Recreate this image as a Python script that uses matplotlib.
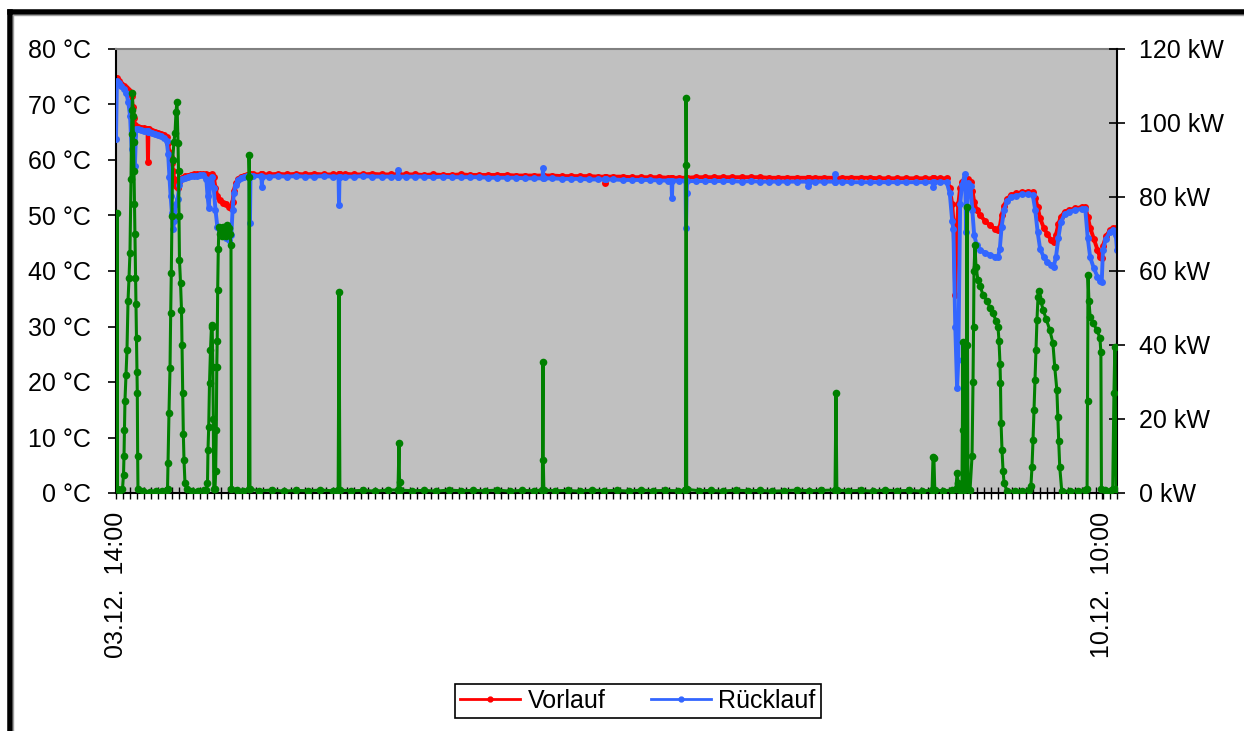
import matplotlib
matplotlib.use("Agg")
import matplotlib.pyplot as plt
import numpy as np
from matplotlib.lines import Line2D

plt.rcParams['font.family'] = ['Liberation Sans', 'DejaVu Sans']

# ---------------- data (time in hours after 03.12. 14:00, approx.) ----------------
zeit_temp = [
    0.00, 0.15, 0.50, 0.90, 1.30, 1.70, 2.00, 2.30, 2.55, 2.75,
    2.95, 3.10, 3.30, 3.60, 4.10, 4.60, 5.05, 5.16, 5.24, 5.32,
    5.45, 5.90, 6.40, 6.90, 7.40, 7.90, 8.30, 8.55, 8.75, 8.95,
    9.15, 9.35, 9.55, 9.80, 10.10, 10.40, 10.80, 11.30, 11.80, 12.30,
    12.80, 13.30, 13.80, 14.30, 14.80, 15.00, 15.20, 15.40, 15.70, 16.00,
    16.30, 16.60, 17.00, 17.50, 18.00, 18.50, 18.90, 19.10, 19.30, 19.60,
    20.00, 20.50, 21.00, 21.50, 21.87, 21.95, 22.03, 22.50,
    23.82, 23.90, 23.98, 25.00, 26.50, 28.00, 29.50, 31.00, 32.50, 34.00,
    35.50, 36.46, 36.54, 36.62, 37.50, 39.00, 40.50, 42.00, 43.50, 45.00,
    46.12, 46.20, 46.28, 47.50, 49.00, 50.50, 52.00, 53.50, 55.00, 56.50,
    58.00, 59.50, 61.00, 62.50, 64.00, 65.50, 67.00, 68.50, 69.88, 69.96,
    70.04, 71.50, 73.00, 74.50, 76.00, 77.50, 79.00, 80.04, 80.12, 80.20,
    81.50, 83.00, 84.50, 86.00, 87.50, 89.00, 90.50, 91.01, 91.09, 91.17,
    92.30, 93.31, 93.39, 93.50, 93.58, 95.00, 96.50, 98.00, 99.50, 101.00,
    102.50, 104.00, 105.50, 107.00, 108.50, 110.00, 111.50, 113.32, 113.40, 113.48,
    114.50, 116.00, 117.72, 117.80, 117.88, 119.00, 120.50, 122.00, 123.50, 125.00,
    126.50, 128.00, 129.50, 131.00, 132.50, 133.82, 133.90, 133.98, 135.00, 136.10,
    136.60, 137.00, 137.20, 137.50, 137.80, 138.00, 138.30, 138.60, 139.10, 139.30,
    139.60, 140.00, 140.30, 140.60, 141.00, 141.60, 142.40, 143.20, 144.00, 144.50,
    144.80, 145.10, 145.50, 146.00, 146.60, 147.50, 148.50, 149.50, 150.20, 150.60,
    151.00, 151.40, 152.00, 152.60, 153.20, 153.60, 154.00, 154.40, 154.80, 155.40,
    156.20, 157.20, 158.20, 158.80, 159.20, 159.60, 160.20, 160.80, 161.20, 161.50,
    161.70, 162.20, 162.80, 163.40, 163.80, 164.00,
]

vorlauf = [
    74.8, 74.8, 74.3, 73.7, 73.3, 72.9, 72.6, 72.2, 71.5, 69.5,
    67.5, 66.3, 66.0, 65.9, 65.8, 65.7, 65.6, 65.6, 59.6, 65.5,
    65.5, 65.3, 65.1, 64.9, 64.7, 64.5, 64.2, 63.0, 61.5, 60.5,
    59.5, 58.0, 56.5, 55.3, 55.0, 56.0, 56.8, 57.1, 57.2, 57.3,
    57.4, 57.4, 57.5, 57.5, 57.4, 57.3, 57.2, 57.3, 57.4, 57.0,
    55.0, 53.5, 52.8, 52.3, 52.0, 51.6, 51.3, 52.5, 54.5, 55.8,
    56.6, 57.0, 57.2, 57.3, 57.3, 57.4, 57.4, 57.4,
    57.4, 57.4, 57.4, 57.4, 57.5, 57.4, 57.5, 57.4, 57.5, 57.4,
    57.4, 57.4, 57.4, 57.4, 57.5, 57.4, 57.4, 57.5, 57.4, 57.4,
    57.4, 57.4, 57.4, 57.4, 57.4, 57.3, 57.4, 57.3, 57.3, 57.4,
    57.3, 57.3, 57.3, 57.3, 57.3, 57.2, 57.2, 57.2, 57.2, 57.2,
    57.2, 57.2, 57.1, 57.1, 57.1, 57.1, 57.0, 57.0, 55.9, 57.0,
    57.0, 57.0, 56.9, 56.9, 56.9, 56.9, 56.8, 56.8, 56.8, 56.8,
    56.8, 56.8, 56.5, 56.8, 56.8, 56.9, 56.9, 56.9, 56.9, 56.9,
    56.9, 56.9, 56.9, 56.8, 56.8, 56.8, 56.8, 56.8, 56.8, 56.8,
    56.8, 56.8, 56.8, 56.8, 56.8, 56.8, 56.8, 56.8, 56.8, 56.7,
    56.7, 56.7, 56.7, 56.7, 56.7, 56.7, 56.7, 56.7, 56.7, 56.7,
    55.0, 52.0, 49.0, 35.7, 48.0, 52.0, 55.0, 56.0, 56.8, 56.6,
    56.5, 56.0, 54.5, 52.5, 51.0, 50.0, 49.0, 48.2, 47.6, 47.4,
    48.0, 50.0, 51.8, 53.0, 53.7, 54.0, 54.2, 54.3, 54.2, 53.2,
    51.5, 49.5, 47.8, 46.6, 45.6, 45.2, 46.5, 48.5, 49.8, 50.6,
    51.0, 51.3, 51.5, 51.5, 49.8, 47.8, 45.8, 43.8, 42.5, 42.3,
    44.5, 46.3, 47.3, 47.7, 47.8, 47.6,
]

ruecklauf = [
    63.8, 74.2, 73.8, 73.3, 72.8, 72.0, 70.5, 68.0, 62.0, 58.5,
    64.5, 59.0, 65.6, 65.5, 65.4, 65.3, 65.2, 65.2, 65.2, 65.1,
    65.1, 64.9, 64.7, 64.5, 64.3, 64.0, 63.5, 61.0, 57.0, 53.5,
    50.5, 47.5, 49.0, 52.0, 53.0, 55.5, 56.5, 56.8, 57.0, 57.1,
    57.2, 57.2, 57.3, 57.3, 56.5, 53.5, 51.4, 56.0, 57.0, 55.0,
    51.0, 48.0, 46.8, 46.3, 45.9, 45.6, 46.5, 51.0, 54.0, 55.5,
    56.4, 56.8, 57.0, 57.1, 57.1, 48.6, 57.1, 57.1,
    57.1, 55.1, 57.0, 57.0, 57.1, 57.0, 57.1, 57.0, 57.0, 57.1,
    57.0, 57.0, 51.9, 57.0, 57.0, 57.0, 57.1, 57.0, 57.0, 57.0,
    57.0, 58.2, 57.0, 57.0, 57.0, 57.0, 56.9, 57.0, 56.9, 56.9,
    56.9, 56.9, 56.8, 56.8, 56.8, 56.8, 56.7, 56.7, 56.7, 58.5,
    56.7, 56.7, 56.6, 56.6, 56.6, 56.5, 56.5, 56.5, 56.5, 56.5,
    56.5, 56.4, 56.4, 56.4, 56.4, 56.3, 56.3, 56.3, 53.2, 56.3,
    56.3, 56.3, 47.7, 54.0, 56.2, 56.2, 56.2, 56.2, 56.2, 56.2,
    56.1, 56.2, 56.1, 56.1, 56.1, 56.1, 56.1, 56.1, 55.3, 56.1,
    56.1, 56.1, 56.1, 57.5, 56.1, 56.1, 56.0, 56.0, 56.0, 56.0,
    56.0, 56.0, 56.0, 56.0, 56.0, 56.0, 55.1, 56.0, 56.0, 56.0,
    54.0, 49.0, 47.5, 30.0, 19.0, 24.0, 52.0, 55.5, 57.5, 47.0,
    55.8, 55.3, 51.0, 46.5, 44.7, 43.8, 43.3, 42.9, 42.6, 42.5,
    44.0, 48.0, 51.0, 52.6, 53.3, 53.6, 53.8, 53.8, 53.7, 51.0,
    47.0, 44.0, 42.5, 41.6, 41.0, 40.7, 42.5, 46.0, 48.8, 50.2,
    50.7, 51.0, 51.2, 51.2, 46.0, 42.5, 40.5, 39.0, 38.2, 38.0,
    43.8, 45.8, 47.0, 47.3, 46.5, 43.8,
]

zeit_leistung = [
    0.00, 0.12, 0.16, 0.20, 0.60, 1.06, 1.23, 1.31, 1.39, 1.47,
    1.64, 1.80, 1.97, 2.13, 2.29, 2.46, 2.54, 2.62, 2.70, 2.79,
    2.87, 2.95, 3.03, 3.11, 3.19, 3.28, 3.36, 3.44, 3.49, 3.55,
    3.60, 4.50, 5.50, 6.50, 7.50, 8.30, 8.44, 8.52, 8.68, 8.85,
    8.96, 9.06, 9.17, 9.28, 9.50, 9.67, 9.83, 9.99, 10.16, 10.24,
    10.32, 10.40, 10.57, 10.73, 10.81, 10.93, 11.03, 11.14, 11.30, 11.63,
    12.50, 13.50, 14.40, 14.75, 14.99, 15.07, 15.19, 15.32, 15.48, 15.65,
    15.76, 15.86, 15.94, 16.02, 16.22, 16.33, 16.43, 16.51, 16.58, 16.66,
    16.76, 16.87, 17.04, 17.20, 17.37, 17.53, 17.69, 17.86, 18.02, 18.19,
    18.35, 18.51, 18.68, 18.84, 18.92, 19.80, 20.80, 21.71, 21.79, 21.87,
    21.95, 23.50, 25.50, 27.50, 29.50, 31.50, 33.50, 35.50, 36.40, 36.54,
    36.68, 38.50, 40.50, 42.50, 44.50, 46.20, 46.37, 46.45, 46.60, 48.50,
    50.50, 52.50, 54.50, 56.50, 58.50, 60.50, 62.50, 64.50, 66.50, 68.50,
    69.85, 69.96, 70.00, 70.10, 72.00, 74.00, 76.00, 78.00, 80.00, 82.00,
    84.00, 86.00, 88.00, 90.00, 92.00, 93.30, 93.39, 93.45, 93.50, 95.50,
    97.50, 99.50, 101.50, 103.50, 105.50, 107.50, 109.50, 111.50, 113.50, 115.50,
    117.80, 117.96, 118.10, 120.00, 122.00, 124.00, 126.00, 128.00, 130.00, 132.00,
    133.70, 133.86, 134.00, 134.15, 135.50, 137.00, 137.60, 137.80, 138.00, 138.20,
    138.60, 138.77, 138.85, 138.93, 139.26, 139.34, 139.42, 139.50, 139.59, 139.92,
    140.25, 140.41, 140.50, 140.57, 140.73, 140.90, 141.23, 141.56, 142.05, 142.70,
    143.20, 143.70, 144.18, 144.50, 144.67, 144.83, 144.91, 145.00, 145.16, 145.33,
    145.50, 146.00, 147.30, 148.40, 149.60, 149.90, 150.07, 150.24, 150.40, 150.56,
    150.72, 150.89, 151.06, 151.30, 151.50, 151.90, 152.40, 153.00, 153.50, 153.80,
    154.15, 154.30, 154.45, 154.62, 154.95, 156.30, 157.60, 158.80, 159.10, 159.17,
    159.25, 159.40, 159.60, 160.10, 160.70, 161.20, 161.36, 161.45, 162.00, 162.80,
    163.30, 163.50, 163.65, 163.85,
]

leistung = [
    1.0, 1.0, 75.7, 1.0, 0.8, 1.0, 5.0, 10.0, 17.0, 25.0,
    32.0, 38.6, 52.0, 58.0, 65.0, 85.0, 97.0, 103.5, 108.0, 102.0,
    95.0, 87.0, 78.0, 70.0, 58.0, 51.0, 42.0, 32.7, 27.0, 10.0,
    1.0, 0.5, 0.4, 0.5, 0.6, 0.8, 1.0, 8.0, 21.6, 33.8,
    48.6, 59.5, 75.0, 90.0, 95.0, 97.3, 103.0, 105.7, 94.6, 87.0,
    75.0, 63.0, 56.8, 49.5, 40.0, 27.0, 16.0, 9.0, 2.7, 1.0,
    0.6, 0.5, 0.8, 0.8, 2.7, 11.6, 17.8, 29.7, 38.6, 45.4,
    45.0, 34.0, 20.0, 1.0, 1.0, 6.0, 17.0, 34.0, 41.0, 55.0,
    66.0, 72.0, 70.0, 71.5, 69.5, 72.0, 70.5, 71.0, 69.5, 72.5,
    70.0, 71.5, 70.0, 67.0, 1.0, 0.8, 0.6, 1.0, 91.4, 85.4,
    1.0, 0.6, 0.8, 0.5, 0.7, 0.6, 0.8, 0.6, 0.8, 54.3,
    0.8, 0.6, 0.7, 0.5, 0.8, 0.8, 13.5, 3.0, 0.8, 0.6,
    0.7, 0.5, 0.8, 0.6, 0.7, 0.6, 0.8, 0.5, 0.7, 0.6,
    0.8, 35.4, 9.0, 0.8, 0.6, 0.7, 0.5, 0.8, 0.6, 0.7,
    0.5, 0.8, 0.6, 0.7, 0.6, 0.8, 106.8, 88.6, 1.0, 0.6,
    0.7, 0.5, 0.8, 0.6, 0.7, 0.5, 0.6, 0.8, 0.6, 0.7,
    0.8, 27.0, 0.8, 0.6, 0.7, 0.5, 0.8, 0.6, 0.7, 0.5,
    0.8, 9.7, 9.5, 0.8, 0.6, 0.8, 1.0, 5.4, 2.7, 0.8,
    2.0, 40.8, 17.0, 0.8, 1.0, 40.0, 77.3, 40.0, 1.0, 0.8,
    10.0, 30.0, 45.0, 60.0, 67.0, 61.0, 57.5, 56.0, 53.5, 52.0,
    50.0, 48.6, 46.5, 45.0, 41.0, 35.0, 29.7, 19.0, 11.6, 6.0,
    2.7, 0.5, 0.5, 0.6, 0.8, 2.0, 7.0, 14.3, 22.4, 30.5,
    38.6, 46.8, 53.0, 54.5, 52.0, 49.5, 47.0, 44.0, 40.5, 34.0,
    27.8, 20.5, 14.0, 7.0, 0.5, 0.5, 0.6, 0.8, 1.0, 25.0,
    59.0, 52.0, 47.6, 46.0, 44.0, 42.0, 38.0, 1.0, 0.8, 0.5,
    1.0, 27.0, 39.5, 1.0,
]

temp_ticks = [0, 10, 20, 30, 40, 50, 60, 70, 80]
kw_ticks = [0, 20, 40, 60, 80, 100, 120]
x_label_pos = [0.0, 161.5]
x_labels = ["03.12.  14:00", "10.12.  10:00"]
serien_namen = ["Vorlauf", "Rücklauf"]

# ---------------- figure ----------------
W, H = 1244, 731
fig = plt.figure(figsize=(W / 100, H / 100), dpi=100)
ax = fig.add_axes([116 / W, 1 - 493 / H, (1117 - 116) / W, (493 - 49) / H])
ax.set_facecolor('#C0C0C0')
ax2 = ax.twinx()

red = '#FF0000'
blue = '#3366FF'
green = '#008000'

ax.plot(zeit_temp, vorlauf, color=red, lw=2.8, marker='o', ms=5, mew=0, zorder=2)
ax.plot(zeit_temp, ruecklauf, color=blue, lw=2.8, marker='o', ms=5, mew=0, zorder=3)
ax2.plot(zeit_leistung, leistung, color=green, lw=2.2, marker='o', ms=5.5, mew=0, zorder=3)

ax.set_xlim(0, 164)
ax.set_ylim(0, 80)
ax2.set_ylim(0, 120)

fs = 18
ax.set_yticks(temp_ticks)
ax.set_yticklabels([f"{v} °C" for v in temp_ticks], fontsize=fs)
ax2.set_yticks(kw_ticks)
ax2.set_yticklabels([f"{v} kW" for v in kw_ticks], fontsize=fs)

ax.set_xticks(x_label_pos)
ax.set_xticklabels(x_labels, rotation=90, fontsize=fs, va='top', ha='center')
ax.set_xticks(np.linspace(0, 164, 144), minor=True)

ax.tick_params(axis='y', direction='out', length=6, width=1.2, pad=12, colors='black')
ax2.tick_params(axis='y', direction='inout', length=11.5, width=1.2, pad=10, colors='black')
ax.tick_params(axis='x', which='both', direction='inout', length=9, width=1.0, pad=9)

for s in ['left', 'bottom']:
    ax.spines[s].set_color('black')
    ax.spines[s].set_linewidth(1.5)
ax.spines['top'].set_color('#808080')
ax.spines['top'].set_linewidth(1.5)
ax.spines['right'].set_visible(False)
for s in ['top', 'left', 'bottom']:
    ax2.spines[s].set_visible(False)
ax2.spines['right'].set_color('black')
ax2.spines['right'].set_linewidth(1.5)

# legend
handles = [Line2D([], [], color=red, lw=2, marker='o', ms=3.5),
           Line2D([], [], color=blue, lw=2, marker='o', ms=3.5)]
leg = fig.legend(handles, serien_namen, loc='center', bbox_to_anchor=(638 / W, 1 - 701 / H),
                 ncol=2, frameon=True, fancybox=False, edgecolor='black', framealpha=1,
                 fontsize=fs, handlelength=2.4, columnspacing=1.8, borderpad=0.2,
                 handletextpad=0.3)
leg.get_frame().set_linewidth(1.2)

# outer frame (top and left)
fig.add_artist(Line2D([10 / W, 1.0], [1 - 12 / H, 1 - 12 / H], transform=fig.transFigure,
                      color='black', lw=4))
fig.add_artist(Line2D([10 / W, 10 / W], [0.0, 1 - 12 / H], transform=fig.transFigure,
                      color='black', lw=4))
fig.add_artist(Line2D([14 / W, 1.0], [1 - 15 / H, 1 - 15 / H], transform=fig.transFigure,
                      color='#A0A0A0', lw=1))
fig.add_artist(Line2D([13 / W, 13 / W], [0.0, 1 - 15 / H], transform=fig.transFigure,
                      color='#A0A0A0', lw=1))

fig.savefig('out.png', dpi=100)
